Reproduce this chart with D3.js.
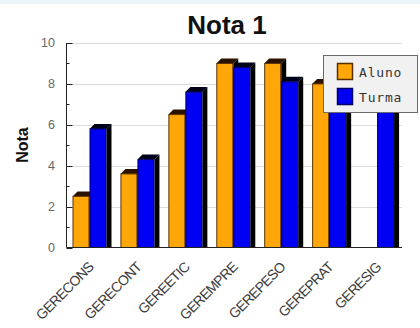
<!DOCTYPE html>
<html>
<head>
<meta charset="utf-8">
<script src="https://cdn.jsdelivr.net/npm/d3@7"></script>
<style>
  html, body { margin: 0; padding: 0; background: #fff; }
  svg { display: block; }
</style>
</head>
<body>
<svg id="chart" width="420" height="328"></svg>
<script>
// Grades per subject: student vs. class
const categories = ["GERECONS", "GERECONT", "GEREETIC", "GEREMPRE", "GEREPESO", "GEREPRAT", "GERESIG"];
const aluno = [2.5, 3.6, 6.5, 9.0, 9.0, 8.0, null];
const turma = [5.8, 4.3, 7.6, 8.8, 8.1, 7.6, 7.7];
const yTicks = [0, 2, 4, 6, 8, 10];
const seriesNames = ["Aluno", "Turma"];

const colors = { Aluno: "#ffa608", Turma: "#0000f2" };
const topShade = { Aluno: "#2b1200", Turma: "#000018" };
const edge = { Aluno: "#5a3000", Turma: "#00006a" };

const svg = d3.select("#chart");
const plot = { left: 66.5, right: 402, top: 43, bottom: 247.5 };

// faint band along the top edge
svg.append("rect").attr("x", 0).attr("y", 0).attr("width", 420).attr("height", 4).attr("fill", "#eaf5fa");

const x = d3.scaleBand().domain(categories).range([plot.left, plot.right]).padding(0);
const y = d3.scaleLinear().domain([0, 10]).range([plot.bottom, plot.top]);

// title
svg.append("text")
  .attr("x", 227).attr("y", 34)
  .attr("text-anchor", "middle")
  .attr("font-family", "Liberation Sans, Arial, sans-serif")
  .attr("font-weight", "bold").attr("font-size", 26)
  .attr("fill", "#111")
  .text("Nota 1");

// horizontal grid
svg.append("g").selectAll("line")
  .data(yTicks.filter(d => d > 0))
  .join("line")
  .attr("x1", plot.left).attr("x2", plot.right)
  .attr("y1", d => Math.round(y(d)) + 0.5).attr("y2", d => Math.round(y(d)) + 0.5)
  .attr("stroke", "#dcdcdc").attr("stroke-width", 1);

// 3D bars
const barW = 17, depth = 5, groupPad = 6;
const gBars = svg.append("g");
categories.forEach((c, i) => {
  [["Aluno", aluno[i]], ["Turma", turma[i]]].forEach(([name, v], j) => {
    if (v == null) return;
    const x0 = x(c) + groupPad + j * barW;
    const x1 = x0 + barW;
    const yv = y(v), y0 = y(0);
    // side face
    gBars.append("polygon")
      .attr("points", [[x1, yv], [x1 + depth, yv - depth], [x1 + depth, y0], [x1, y0]].join(" "))
      .attr("fill", "#000");
    // top face
    gBars.append("polygon")
      .attr("points", [[x0, yv], [x0 + depth, yv - depth], [x1 + depth, yv - depth], [x1, yv]].join(" "))
      .attr("fill", topShade[name]);
    // front face
    gBars.append("rect")
      .attr("x", x0 + 0.5).attr("y", yv)
      .attr("width", barW - 1).attr("height", y0 - yv)
      .attr("fill", colors[name])
      .attr("stroke", edge[name]).attr("stroke-width", 1);
  });
});

// y axis with major and minor ticks
const yAxis = svg.append("g");
yAxis.append("line")
  .attr("x1", plot.left).attr("x2", plot.left)
  .attr("y1", plot.top).attr("y2", plot.bottom)
  .attr("stroke", "#222");
yAxis.selectAll("line.major").data(yTicks).join("line").attr("class", "major")
  .attr("x1", plot.left).attr("x2", plot.left + 6)
  .attr("y1", d => Math.round(y(d)) + 0.5).attr("y2", d => Math.round(y(d)) + 0.5)
  .attr("stroke", "#222");
yAxis.selectAll("line.minor").data(d3.range(1, 10, 2)).join("line").attr("class", "minor")
  .attr("x1", plot.left).attr("x2", plot.left + 3)
  .attr("y1", d => Math.round(y(d)) + 0.5).attr("y2", d => Math.round(y(d)) + 0.5)
  .attr("stroke", "#222");
yAxis.selectAll("text").data(yTicks).join("text")
  .attr("x", 55).attr("y", d => y(d))
  .attr("dy", "0.35em")
  .attr("text-anchor", "end")
  .attr("font-family", "Liberation Sans, Arial, sans-serif")
  .attr("font-size", 12.5).attr("fill", "#666")
  .text(d => d);

// x axis
svg.append("line")
  .attr("x1", plot.left).attr("x2", plot.right)
  .attr("y1", plot.bottom).attr("y2", plot.bottom)
  .attr("stroke", "#222");

svg.append("g").selectAll("text").data(categories).join("text")
  .attr("transform", d => `translate(${x(d) + x.bandwidth() / 2 + 4},268) rotate(-45)`)
  .attr("text-anchor", "end")
  .attr("font-family", "Liberation Sans, Arial, sans-serif")
  .attr("font-size", 14).attr("letter-spacing", -0.7)
  .attr("fill", "#3a3a3a")
  .text(d => d);

// y axis title
svg.append("text")
  .attr("transform", "translate(28,145) rotate(-90)")
  .attr("text-anchor", "middle")
  .attr("font-family", "Liberation Sans, Arial, sans-serif")
  .attr("font-weight", "bold").attr("font-size", 16)
  .attr("fill", "#111")
  .text("Nota");

// legend
const lg = svg.append("g");
lg.append("rect")
  .attr("x", 323.5).attr("y", 55.5).attr("width", 94).attr("height", 57)
  .attr("fill", "#f1f1f1").attr("stroke", "#6a6a6a");
seriesNames.forEach((name, i) => {
  lg.append("rect")
    .attr("x", 337.5).attr("y", 63.5 + i * 25).attr("width", 15).attr("height", 16)
    .attr("fill", colors[name]).attr("stroke", edge[name]).attr("stroke-width", 1.5);
  lg.append("text")
    .attr("x", 359).attr("y", 77 + i * 25)
    .attr("font-family", "DejaVu Sans Mono, monospace")
    .attr("font-size", 13).attr("letter-spacing", 0.8)
    .attr("fill", "#333")
    .text(name);
});
</script>
</body>
</html>
